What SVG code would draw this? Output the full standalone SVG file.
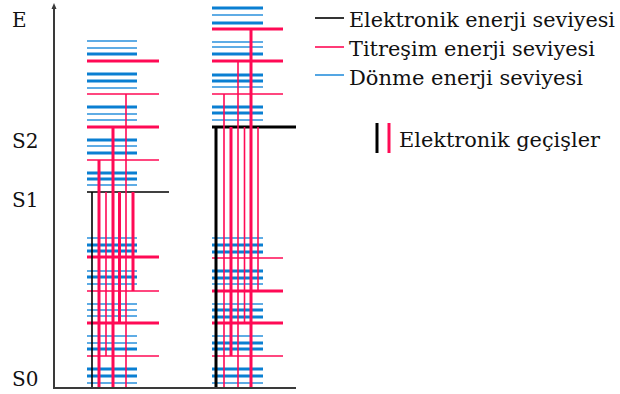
<svg xmlns="http://www.w3.org/2000/svg" width="620" height="394" viewBox="0 0 620 394">
<style>
text{font-family:"DejaVu Serif","Liberation Serif",serif;font-size:20px;fill:#111}
.b1{stroke:#0a7fd2;stroke-width:3}
.b2{stroke:#2a90dc;stroke-width:1.6}
.r1{stroke:#ff0a55;stroke-width:3}
.r2{stroke:#ff0a55;stroke-width:1.6}
.k1{stroke:#000;stroke-width:3}
.k2{stroke:#000;stroke-width:1.6}
.ax{stroke:#3a3a3a;stroke-width:2;fill:none}
</style>
<rect width="620" height="394" fill="#fff"/>
<g id="left-levels">
<g id="left-S1">
<line class="k2" x1="87" y1="192" x2="169" y2="192"/>
<line class="b2" x1="87" y1="185" x2="137" y2="185"/>
<line class="b1" x1="87" y1="179" x2="137" y2="179"/>
<line class="b1" x1="87" y1="173" x2="137" y2="173"/>
<line class="r2" x1="87" y1="160" x2="159" y2="160"/>
<line class="b1" x1="87" y1="153" x2="137" y2="153"/>
<line class="b2" x1="87" y1="146" x2="137" y2="146"/>
<line class="b1" x1="87" y1="140" x2="137" y2="140"/>
<line class="r1" x1="87" y1="127" x2="159" y2="127"/>
<line class="b2" x1="87" y1="120" x2="137" y2="120"/>
<line class="b2" x1="87" y1="114" x2="137" y2="114"/>
<line class="b1" x1="87" y1="107" x2="137" y2="107"/>
<line class="r2" x1="87" y1="94" x2="159" y2="94"/>
<line class="b2" x1="87" y1="88" x2="137" y2="88"/>
<line class="b1" x1="87" y1="81" x2="137" y2="81"/>
<line class="b1" x1="87" y1="74" x2="137" y2="74"/>
<line class="r1" x1="87" y1="61" x2="159" y2="61"/>
<line class="b1" x1="87" y1="54" x2="137" y2="54"/>
<line class="b2" x1="87" y1="48" x2="137" y2="48"/>
<line class="b2" x1="87" y1="41" x2="137" y2="41"/>
</g>
<g id="left-S0">
<line class="b2" x1="87" y1="383" x2="137" y2="383"/>
<line class="b1" x1="87" y1="376" x2="137" y2="376"/>
<line class="b1" x1="87" y1="369" x2="137" y2="369"/>
<line class="r2" x1="87" y1="356" x2="159" y2="356"/>
<line class="b1" x1="87" y1="349" x2="137" y2="349"/>
<line class="b2" x1="87" y1="343" x2="137" y2="343"/>
<line class="b2" x1="87" y1="336" x2="137" y2="336"/>
<line class="r1" x1="87" y1="323" x2="159" y2="323"/>
<line class="b2" x1="87" y1="316" x2="137" y2="316"/>
<line class="b2" x1="87" y1="310" x2="137" y2="310"/>
<line class="b2" x1="87" y1="304" x2="137" y2="304"/>
<line class="r2" x1="87" y1="291" x2="159" y2="291"/>
<line class="b2" x1="87" y1="284" x2="137" y2="284"/>
<line class="b1" x1="87" y1="277" x2="137" y2="277"/>
<line class="b2" x1="87" y1="271" x2="137" y2="271"/>
<line class="r1" x1="87" y1="257" x2="159" y2="257"/>
<line class="b1" x1="87" y1="251" x2="137" y2="251"/>
<line class="b1" x1="87" y1="245" x2="137" y2="245"/>
<line class="b2" x1="87" y1="238" x2="137" y2="238"/>
</g>
</g>
<g id="right-levels">
<g id="right-S2">
<line class="b2" x1="212" y1="120" x2="263" y2="120"/>
<line class="b1" x1="212" y1="113" x2="263" y2="113"/>
<line class="b1" x1="212" y1="107" x2="263" y2="107"/>
<line class="r2" x1="212" y1="94" x2="283" y2="94"/>
<line class="b2" x1="212" y1="87" x2="263" y2="87"/>
<line class="b1" x1="212" y1="81" x2="263" y2="81"/>
<line class="b1" x1="212" y1="75" x2="263" y2="75"/>
<line class="r1" x1="212" y1="61" x2="283" y2="61"/>
<line class="b1" x1="212" y1="54" x2="263" y2="54"/>
<line class="b2" x1="212" y1="47" x2="263" y2="47"/>
<line class="b2" x1="212" y1="42" x2="263" y2="42"/>
<line class="r1" x1="212" y1="29" x2="283" y2="29"/>
<line class="b1" x1="212" y1="23" x2="263" y2="23"/>
<line class="b2" x1="212" y1="15" x2="263" y2="15"/>
<line class="b1" x1="212" y1="8" x2="263" y2="8"/>
</g>
<g id="right-S0">
<line class="b2" x1="212" y1="383" x2="263" y2="383"/>
<line class="b1" x1="212" y1="376" x2="263" y2="376"/>
<line class="b1" x1="212" y1="369" x2="263" y2="369"/>
<line class="r2" x1="212" y1="356" x2="283" y2="356"/>
<line class="b1" x1="212" y1="349" x2="263" y2="349"/>
<line class="b1" x1="212" y1="343" x2="263" y2="343"/>
<line class="b2" x1="212" y1="336" x2="263" y2="336"/>
<line class="r1" x1="212" y1="323" x2="283" y2="323"/>
<line class="b1" x1="212" y1="317" x2="263" y2="317"/>
<line class="b1" x1="212" y1="310" x2="263" y2="310"/>
<line class="b2" x1="212" y1="304" x2="263" y2="304"/>
<line class="r1" x1="212" y1="291" x2="283" y2="291"/>
<line class="b2" x1="212" y1="284" x2="263" y2="284"/>
<line class="b1" x1="212" y1="278" x2="263" y2="278"/>
<line class="b1" x1="212" y1="271" x2="263" y2="271"/>
<line class="r2" x1="212" y1="258" x2="283" y2="258"/>
<line class="b1" x1="212" y1="252" x2="263" y2="252"/>
<line class="b1" x1="212" y1="245" x2="263" y2="245"/>
<line class="b2" x1="212" y1="238" x2="263" y2="238"/>
</g>
<line class="k1" x1="212" y1="127" x2="296" y2="127"/>
</g>
<g id="transitions">
<line class="k2" x1="92" y1="192" x2="92" y2="388"/>
<line class="r1" x1="99" y1="160" x2="99" y2="388"/>
<line class="r2" x1="106" y1="192" x2="106" y2="356"/>
<line class="r1" x1="113" y1="127" x2="113" y2="388"/>
<line class="r1" x1="119.5" y1="192" x2="119.5" y2="323"/>
<line class="r2" x1="126" y1="94" x2="126" y2="388"/>
<line class="r1" x1="133" y1="192" x2="133" y2="291"/>
<line class="k1" x1="216" y1="127" x2="216" y2="388"/>
<line class="r2" x1="224" y1="94" x2="224" y2="388"/>
<line class="r1" x1="231" y1="127" x2="231" y2="356"/>
<line class="r2" x1="238" y1="61" x2="238" y2="388"/>
<line class="r2" x1="244.5" y1="127" x2="244.5" y2="323"/>
<line class="r1" x1="251" y1="29" x2="251" y2="388"/>
<line class="r2" x1="258" y1="127" x2="258" y2="291"/>
</g>
<g id="axes">
<path class="ax" d="M54 7 V388 H296"/>
<path d="M51.5 9 L54 3 L56.5 9 Z" fill="#3a3a3a"/>
<text x="12" y="27">E</text>
<text x="12" y="148">S2</text>
<text x="12" y="207">S1</text>
<text x="12" y="386">S0</text>
</g>
<g id="legend">
<line class="k2" x1="315" y1="18" x2="344" y2="18"/>
<text x="349" y="27" textLength="266" lengthAdjust="spacingAndGlyphs">Elektronik enerji seviyesi</text>
<line class="r2" x1="315" y1="47" x2="344" y2="47"/>
<text x="349" y="56" textLength="246" lengthAdjust="spacingAndGlyphs">Titreşim enerji seviyesi</text>
<line class="b2" x1="315" y1="75" x2="344" y2="75"/>
<text x="349" y="85" textLength="234" lengthAdjust="spacingAndGlyphs">Dönme enerji seviyesi</text>
<line class="k1" x1="377" y1="123" x2="377" y2="153"/>
<line class="r1" x1="389" y1="123" x2="389" y2="153"/>
<text x="399" y="147" textLength="201" lengthAdjust="spacingAndGlyphs">Elektronik geçişler</text>
</g>
</svg>
